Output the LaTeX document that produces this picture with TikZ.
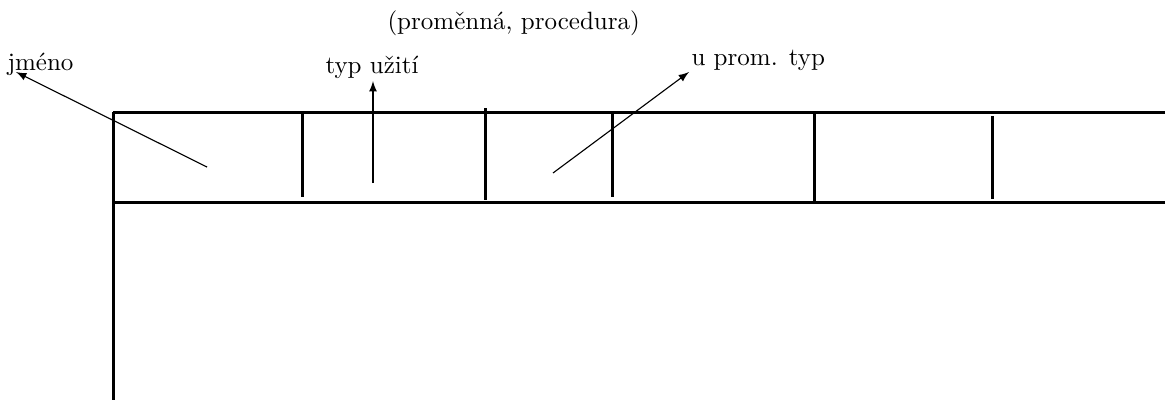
\documentclass[tikz,border=0pt]{standalone}
\usepackage{tikz}
\usepackage{xcolor}

\begin{document}
\begin{tikzpicture} %Tabulka symbolu
  [
    x=0.4pt, y=-0.4pt,
    % styly car a popisku
    linka/.style={line width=1.2pt},
    sipka/.style={-latex, line width=0.45pt},
    popis/.style={anchor=base west, inner sep=0pt}
  ]
  \useasboundingbox (0,0) rectangle (1165,400);
  \node[popis] (jmeno) at (7,70) {jméno};
  \node[popis] (typ) at (325,73) {typ užití};
  \node[popis] (uprom) at (691,65) {u prom. typ};
  \node[popis] (druh) at (387,29) {(proměnná, procedura)};
  \coordinate (c1) at (207,167);
  \coordinate (c2) at (373,183);
  \coordinate (c3) at (553,173);
  \coordinate (t1) at (16,72);
  \coordinate (t2) at (373,81);
  \coordinate (t3) at (689,72);
  \draw[linka] (113,112) -- (1165,112);
  \draw[linka] (115,202) -- (1165,202);
  \draw[linka] (113,112) -- (113,400);
  \draw[linka] (302,112) -- (302,197);
  \draw[linka] (485,108) -- (485,200);
  \draw[linka] (612,112) -- (612,197);
  \draw[linka] (814,112) -- (814,202);
  \draw[linka] (992,116) -- (992,199);
  \draw[sipka] (c1) -- (t1);
  \draw[sipka] (c2) -- (t2);
  \draw[sipka] (c3) -- (t3);
  
\end{tikzpicture}
\end{document}
